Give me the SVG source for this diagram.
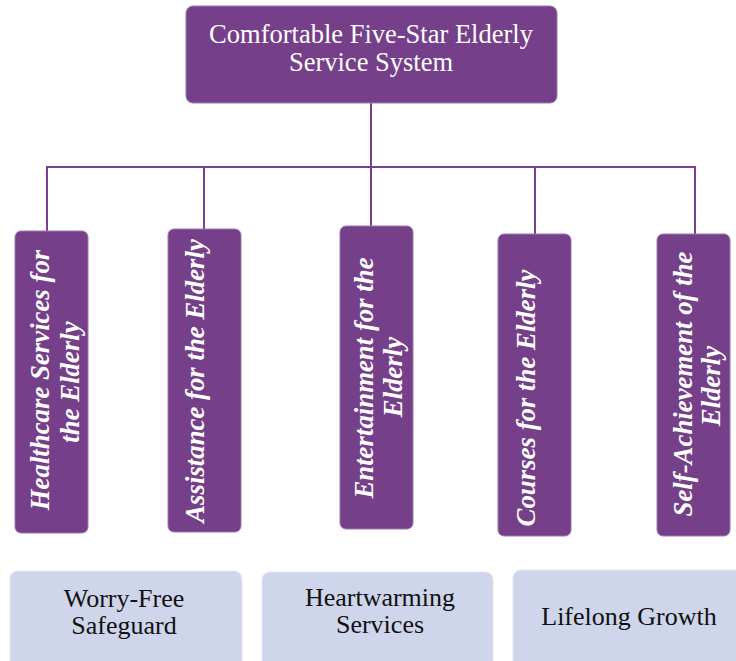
<svg xmlns="http://www.w3.org/2000/svg" width="736" height="661" viewBox="0 0 736 661">
  <style>
    .main { fill: #753F8A; stroke: #9C7AAE; stroke-width: 1; }
    .goal { fill: #CFD5EA; stroke: #E3E6F2; stroke-width: 1; }
    .link { stroke: #7A3F8D; stroke-width: 2; fill: none; }
    .title { font-size: 26.5px; fill: #FFFFFF; text-anchor: middle; }
    .vert { font-size: 26.8px; font-weight: bold; font-style: italic; fill: #FFFFFF; text-anchor: middle; }
    .goaltext { font-size: 26px; fill: #111111; text-anchor: middle; }
  </style>

  <g id="connectors">
    <line class="link" x1="371" y1="103" x2="371" y2="167"/>
    <line class="link" x1="46" y1="167" x2="696" y2="167"/>
    <line class="link" x1="47" y1="167" x2="47" y2="231"/>
    <line class="link" x1="204" y1="167" x2="204" y2="229"/>
    <line class="link" x1="371" y1="167" x2="371" y2="226"/>
    <line class="link" x1="535" y1="167" x2="535" y2="234"/>
    <line class="link" x1="695" y1="167" x2="695" y2="234"/>
  </g>

  <g font-family="Liberation Serif, Times New Roman, serif">
    <g id="root">
      <rect class="main" x="186" y="6" width="371" height="97" rx="7"/>
      <text class="title" x="371" y="43">Comfortable Five-Star Elderly</text>
      <text class="title" x="371" y="71">Service System</text>
    </g>

    <g id="healthcare">
      <rect class="main" x="15" y="231" width="73" height="302" rx="6"/>
      <text class="vert" transform="translate(49,380) rotate(-90)">Healthcare Services for</text>
      <text class="vert" transform="translate(79,382) rotate(-90)">the Elderly</text>
    </g>

    <g id="assistance">
      <rect class="main" x="168" y="229" width="73" height="303" rx="6"/>
      <text class="vert" transform="translate(204,381) rotate(-90)">Assistance for the Elderly</text>
    </g>

    <g id="entertainment">
      <rect class="main" x="340" y="226" width="73" height="303" rx="6"/>
      <text class="vert" transform="translate(373,378) rotate(-90)">Entertainment for the</text>
      <text class="vert" transform="translate(402,377) rotate(-90)">Elderly</text>
    </g>

    <g id="courses">
      <rect class="main" x="498" y="234" width="73" height="302" rx="6"/>
      <text class="vert" transform="translate(535,398) rotate(-90)">Courses for the Elderly</text>
    </g>

    <g id="self-achievement">
      <rect class="main" x="657" y="234" width="73" height="302" rx="6"/>
      <text class="vert" transform="translate(692,384) rotate(-90)">Self-Achievement of the</text>
      <text class="vert" transform="translate(720,386) rotate(-90)">Elderly</text>
    </g>

    <g id="worry-free">
      <rect class="goal" x="10" y="571" width="232" height="100" rx="8"/>
      <text class="goaltext" x="124" y="607">Worry-Free</text>
      <text class="goaltext" x="124" y="634">Safeguard</text>
    </g>

    <g id="heartwarming">
      <rect class="goal" x="262" y="572" width="231" height="100" rx="8"/>
      <text class="goaltext" x="380" y="606">Heartwarming</text>
      <text class="goaltext" x="380" y="633">Services</text>
    </g>

    <g id="lifelong">
      <rect class="goal" x="513" y="570" width="240" height="100" rx="8"/>
      <text class="goaltext" x="629" y="625">Lifelong Growth</text>
    </g>
  </g>
</svg>
